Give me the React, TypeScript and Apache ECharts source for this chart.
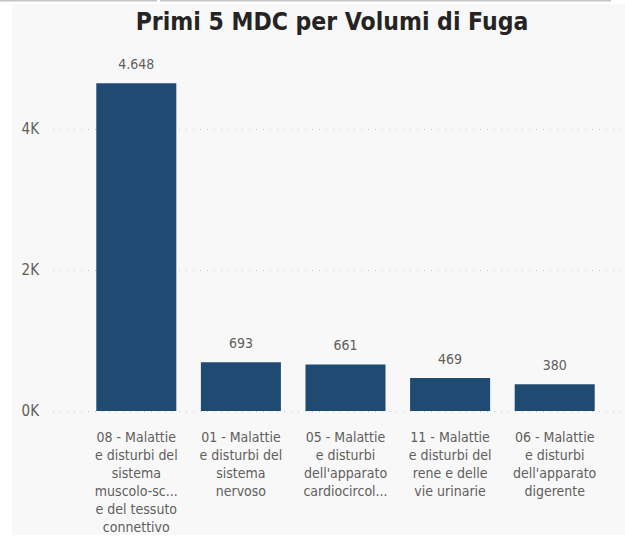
import React, { useEffect, useRef } from "react";
import * as echarts from "echarts";

const categories = [
  "08 - Malattie\ne disturbi del\nsistema\nmuscolo-sc...\ne del tessuto\nconnettivo",
  "01 - Malattie\ne disturbi del\nsistema\nnervoso",
  "05 - Malattie\ne disturbi\ndell'apparato\ncardiocircol...",
  "11 - Malattie\ne disturbi del\nrene e delle\nvie urinarie",
  "06 - Malattie\ne disturbi\ndell'apparato\ndigerente",
];
const values = [4648, 693, 661, 469, 380];
const title = "Primi 5 MDC per Volumi di Fuga";

const FONT = "'Liberation Sans Narrow', 'DejaVu Sans Condensed', sans-serif";
const fmtNum = (v: number) => String(v).replace(/\B(?=(\d{3})+(?!\d))/g, ".");

export default function App() {
  const ref = useRef<HTMLDivElement>(null);
  useEffect(() => {
    if (!ref.current) return;
    const chart = echarts.init(ref.current, undefined, { renderer: "svg" });
    const top = 58.5;
    const bottom = 131;
    chart.setOption({
      animation: false,
      backgroundColor: "#ffffff",
      title: {
        text: title,
        left: 327,
        textAlign: "center",
        top: 4,
        textStyle: { fontFamily: "'DejaVu Sans Condensed', sans-serif", fontWeight: "bold", fontSize: 24.5, color: "#252423" },
      },
      graphic: [
        { type: "rect", z: -10, shape: { x: 12, y: 4, width: 613, height: 531 }, style: { fill: "#f8f8f8" }, silent: true },
        { type: "rect", z: -10, shape: { x: 0, y: 0, width: 157, height: 1.5 }, style: { fill: "#c4c4c4" }, silent: true },
        { type: "rect", z: -10, shape: { x: 160, y: 0, width: 451, height: 1.5 }, style: { fill: "#c4c4c4" }, silent: true },
      ],
      grid: [
        { left: 84, right: 18, top, bottom },
        { left: 53, right: 2, top, bottom },
      ],
      xAxis: [
        {
          type: "category",
          gridIndex: 0,
          data: categories,
          axisLine: { show: false },
          axisTick: { show: false },
          axisLabel: {
            interval: 0,
            margin: 17,
            fontFamily: FONT,
            fontSize: 14,
            lineHeight: 18,
            color: "#605e5c",
            align: "center",
          },
        },
        { type: "value", gridIndex: 1, show: false },
      ],
      yAxis: [
        {
          type: "value",
          gridIndex: 0,
          min: 0,
          max: 5000,
          interval: 2000,
          axisLine: { show: false },
          axisTick: { show: false },
          splitLine: { show: false },
          axisLabel: {
            margin: 45,
            showMaxLabel: false,
            fontFamily: FONT,
            fontSize: 15,
            color: "#605e5c",
            formatter: (v: number) => (v % 2000 === 0 ? v / 1000 + "K" : ""),
          },
        },
        {
          type: "value",
          gridIndex: 1,
          min: 0,
          max: 5000,
          interval: 2000,
          axisLine: { show: false },
          axisTick: { show: false },
          axisLabel: { show: false },
          splitLine: {
            show: true,
            showMaxLine: false,
            lineStyle: { color: "#c8c8c8", type: [1, 6], width: 1 },
          },
        },
      ],
      series: [
        {
          type: "bar",
          xAxisIndex: 0,
          yAxisIndex: 0,
          data: values,
          barCategoryGap: "23.5%",
          itemStyle: { color: "#1f4b73" },
          z: 5,
          label: {
            show: true,
            position: "top",
            distance: 12,
            fontFamily: FONT,
            fontSize: 14,
            color: "#605e5c",
            formatter: (p: any) => fmtNum(p.value),
          },
        },
      ],
    });
    return () => chart.dispose();
  }, []);
  return (
    <div
      ref={ref}
      style={{ position: "fixed", left: 0, top: 0, width: 625, height: 542 }}
    />
  );
}
